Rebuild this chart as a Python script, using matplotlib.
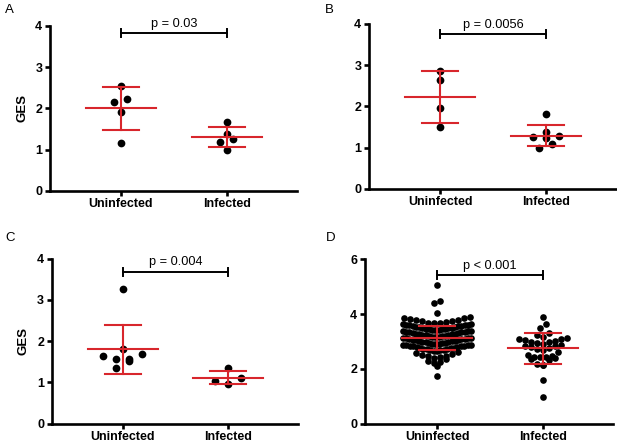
import numpy as np
import matplotlib
matplotlib.use("Agg")
import matplotlib.pyplot as plt

plt.rcParams["font.family"] = ["Liberation Sans", "DejaVu Sans"]

groups = ["Uninfected", "Infected"]

# panel A
a_uninf = [2.54, 2.23, 2.15, 1.90, 1.17]
a_inf = [1.67, 1.38, 1.26, 1.19, 1.00]
a_mean = [2.00, 1.30]
a_sd = [0.52, 0.25]

# panel B
b_uninf = [2.86, 2.63, 1.97, 1.49]
b_inf = [1.81, 1.37, 1.28, 1.26, 1.24, 1.09, 1.00]
b_mean = [2.23, 1.29]
b_sd = [0.63, 0.26]

# panel C
c_uninf = [3.27, 1.80, 1.68, 1.63, 1.58, 1.56, 1.52, 1.36]
c_inf = [1.36, 1.12, 1.03, 0.97]
c_mean = [1.80, 1.12]
c_sd = [0.60, 0.165]

# panel D (dense group, values estimated row by row)
d_uninf = [5.07, 4.47, 4.40, 4.03,
           3.66, 3.68, 3.69, 3.71, 3.73, 3.75, 3.77, 3.80, 3.82, 3.84, 3.86, 3.89,
           3.41, 3.41, 3.42, 3.44, 3.45, 3.45, 3.47, 3.48, 3.50, 3.51, 3.52,
           3.53, 3.54, 3.56, 3.57, 3.58, 3.59, 3.60, 3.61, 3.62, 3.63, 3.64,
           3.16, 3.16, 3.17, 3.19, 3.20, 3.21, 3.22, 3.23, 3.25, 3.26, 3.27,
           3.28, 3.29, 3.31, 3.32, 3.33, 3.34, 3.35, 3.36, 3.37, 3.38, 3.39,
           2.91, 2.91, 2.92, 2.94, 2.95, 2.96, 2.97, 2.98, 3.00, 3.01, 3.02,
           3.03, 3.04, 3.06, 3.07, 3.08, 3.09, 3.10, 3.11, 3.12, 3.13, 3.14,
           2.66, 2.67, 2.68, 2.69, 2.70, 2.72, 2.73, 2.74, 2.75, 2.77, 2.78,
           2.79, 2.80, 2.82, 2.83, 2.84, 2.85, 2.86, 2.87, 2.88, 2.89,
           2.62, 2.58, 2.55, 2.51, 2.48, 2.46, 2.44, 2.41,
           2.36, 2.30, 2.25, 2.20, 2.10, 1.74]
d_inf = [3.88, 3.64, 3.48, 3.30, 3.22, 3.16,
         3.13, 3.10, 3.08, 3.05, 3.03, 3.00, 2.98, 2.95, 2.92,
         2.88, 2.85, 2.83, 2.80, 2.76, 2.72, 2.68,
         2.62, 2.50, 2.47, 2.45, 2.43, 2.42,
         2.38, 2.35, 2.32, 2.18, 2.16, 2.14, 1.59, 0.97]
d_mean = [3.12, 2.75]
d_sd = [0.44, 0.57]

p_labels = ["p = 0.03", "p = 0.0056", "p = 0.004", "p < 0.001"]
bracket_y = [3.82, 3.75, 3.68, 5.41]
letters = ["A", "B", "C", "D"]

RED = "#d8262c"
W, H = 617, 445


def row_offsets(vals, bin_u, base, step_px, max_half_px, px_per_cat):
    # GraphPad-like: bin values into rows, spread each row around the centre
    vals = np.asarray(vals, dtype=float)
    rows = np.floor((vals - base) / bin_u + 1e-9).astype(int)
    xo = np.zeros(len(vals))
    for r in np.unique(rows):
        idx = np.where(rows == r)[0]
        idx = idx[np.argsort(vals[idx], kind="stable")]
        n = len(idx)
        step = step_px if n < 2 else min(step_px, 2 * max_half_px / (n - 1))
        slots = (np.arange(n) - (n - 1) / 2) * step
        order = np.argsort(np.abs(slots), kind="stable")
        xo[idx] = slots[order]
    return xo / px_per_cat


fig = plt.figure(figsize=(W / 100, H / 100), dpi=100)

# left, right, top, bottom in pixels
boxes = [(50, 297, 26, 190.7), (369, 617, 24, 188.7),
         (51.7, 297.7, 258.7, 423.7), (364.7, 613, 259.3, 423.7)]
xlims = [(-0.667, 1.663), (-0.67, 1.67), (-0.672, 1.657), (-0.682, 1.66)]
ymaxs = [4, 4, 4, 6]
yticks = [[0, 1, 2, 3, 4]] * 3 + [[0, 2, 4, 6]]
panels = [(a_uninf, a_inf, a_mean, a_sd), (b_uninf, b_inf, b_mean, b_sd),
          (c_uninf, c_inf, c_mean, c_sd), (d_uninf, d_inf, d_mean, d_sd)]
letter_pos = [(5, 4), (325, 4), (5, 232), (326, 232)]

for i, (uninf, inf, means, sds) in enumerate(panels):
    l, r, t, b = boxes[i]
    ax = fig.add_axes([l / W, 1 - b / H, (r - l) / W, (b - t) / H])
    ax.set_xlim(*xlims[i])
    ax.set_ylim(0, ymaxs[i])
    px_cat = (r - l) / (xlims[i][1] - xlims[i][0])
    px_unit = (b - t) / ymaxs[i]

    if i < 3:
        bin_u, base, step, msize = 8 / px_unit, 0.0, 13, 31
    else:
        bin_u, base, step, msize = 0.25, 0.15, 6, 23

    for k, vals in enumerate([uninf, inf]):
        xo = row_offsets(vals, bin_u, base, step, 34, px_cat)
        ax.scatter(k + xo, vals, s=msize, color="black", linewidths=0,
                   zorder=3, clip_on=False)
        m, s = means[k], sds[k]
        ax.plot([k - 0.33, k + 0.33], [m, m], color=RED, lw=1.5, zorder=4)
        ax.plot([k - 0.17, k + 0.17], [m + s, m + s], color=RED, lw=1.5, zorder=4)
        ax.plot([k - 0.17, k + 0.17], [m - s, m - s], color=RED, lw=1.5, zorder=4)
        ax.plot([k, k], [m - s, m + s], color=RED, lw=1.5, zorder=4)

    # significance bracket
    by = bracket_y[i]
    h = 4 / px_unit
    ax.plot([0, 1], [by, by], color="black", lw=1.4, clip_on=False)
    ax.plot([0, 0], [by - h, by + h], color="black", lw=1.4, clip_on=False)
    ax.plot([1, 1], [by - h, by + h], color="black", lw=1.4, clip_on=False)
    ax.annotate(p_labels[i], (0.5, by), xytext=(0, 2.5), textcoords="offset points",
                ha="center", va="bottom", fontsize=9.2, annotation_clip=False)

    ax.set_xticks([0, 1])
    ax.set_xticklabels(groups, fontsize=9, fontweight="bold")
    ax.set_yticks(yticks[i])
    ax.set_yticklabels([str(v) for v in yticks[i]], fontsize=9, fontweight="bold")
    ax.tick_params(width=1.9, length=3.5, pad=2)
    for sp in ["top", "right"]:
        ax.spines[sp].set_visible(False)
    for sp in ["left", "bottom"]:
        ax.spines[sp].set_linewidth(1.9)
    if i in (0, 2):
        ax.set_ylabel("GES", fontsize=9.5, fontweight="bold", labelpad=5)

    fig.text(letter_pos[i][0] / W, 1 - letter_pos[i][1] / H, letters[i],
             ha="left", va="top", fontsize=9.5)

fig.savefig("out.png", dpi=100)
